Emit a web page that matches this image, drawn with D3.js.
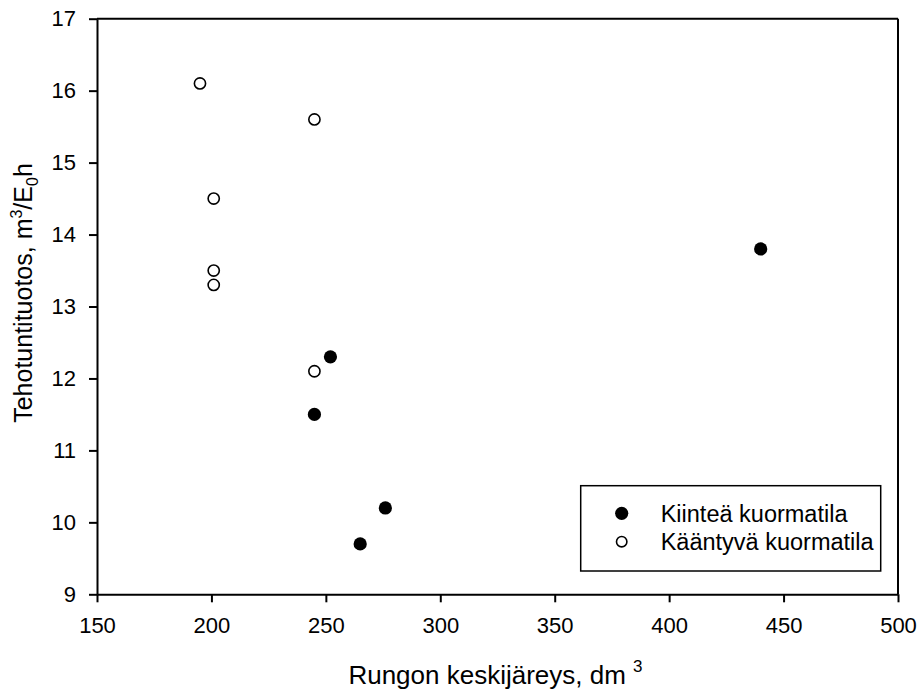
<!DOCTYPE html>
<html>
<head>
<meta charset="utf-8">
<script src="https://cdn.jsdelivr.net/npm/d3@7"></script>
<style>
  body { margin: 0; background: #fff; }
  svg text { font-family: Arial, "Liberation Sans", sans-serif; fill: #000; }
</style>
</head>
<body>
<svg id="chart" width="918" height="693"></svg>
<script>
// fixed cargo space
var fixedX = [440, 252, 245, 276, 265];
var fixedY = [13.8, 12.3, 11.5, 10.2, 9.7];
// rotating cargo space
var rotX = [195, 245, 201, 201, 201, 245];
var rotY = [16.1, 15.6, 14.5, 13.5, 13.3, 12.1];

var xTicks = [150, 200, 250, 300, 350, 400, 450, 500];
var yTicks = [9, 10, 11, 12, 13, 14, 15, 16, 17];
var seriesNames = ["Kiinteä kuormatila", "Kääntyvä kuormatila"];

var margin = { top: 18.7, bottom: 98.7, left: 97, right: 20 };
var svg = d3.select("#chart");
var width = +svg.attr("width");
var height = +svg.attr("height");

var x = d3.scaleLinear()
          .domain([150, 500])
          .range([margin.left, width - margin.right]);
var y = d3.scaleLinear()
          .domain([9, 17])
          .range([height - margin.bottom, margin.top]);

var xAxis = d3.axisBottom(x).tickValues(xTicks).tickSize(8).tickPadding(15).tickSizeOuter(0);
var yAxis = d3.axisLeft(y).tickValues(yTicks).tickSize(8).tickPadding(13).tickSizeOuter(0);

var gx = svg.append("g")
    .attr("transform", `translate(0,${y(9)})`)
    .call(xAxis);
var gy = svg.append("g")
    .attr("transform", `translate(${x(150)},0)`)
    .call(yAxis);

[gx, gy].forEach(g => {
  g.select(".domain").attr("stroke", "#000").attr("stroke-width", 2);
  g.selectAll(".tick line").attr("stroke", "#000").attr("stroke-width", 2);
  g.selectAll(".tick text").style("font-size", "22px").attr("fill", "#000");
});

// top and right frame
svg.append("line")
    .attr("x1", x(150)).attr("x2", x(500))
    .attr("y1", y(17)).attr("y2", y(17))
    .attr("stroke", "#000").attr("stroke-width", 2);
svg.append("line")
    .attr("x1", x(500)).attr("x2", x(500))
    .attr("y1", y(17)).attr("y2", y(9))
    .attr("stroke", "#000").attr("stroke-width", 2);

// axis labels
var xl = svg.append("text")
    .attr("text-anchor", "middle")
    .attr("x", (x(150) + x(500)) / 2 - 2)
    .attr("y", 684)
    .style("font-size", "26px");
xl.append("tspan").text("Rungon keskijäreys, dm ");
xl.append("tspan").attr("dy", -12).style("font-size", "17px").text("3");

var yl = svg.append("text")
    .attr("text-anchor", "middle")
    .attr("transform", `translate(32,293) rotate(-90)`)
    .style("font-size", "25px");
yl.append("tspan").text("Tehotuntituotos, m");
yl.append("tspan").attr("dy", -10).style("font-size", "16px").text("3");
yl.append("tspan").attr("dy", 10).text("/E");
yl.append("tspan").attr("dy", 6).style("font-size", "16px").text("0");
yl.append("tspan").attr("dy", -6).text("h");

// points
var rot = rotX.map((d, i) => ({ x: d, y: rotY[i] }));
var fixed = fixedX.map((d, i) => ({ x: d, y: fixedY[i] }));

svg.append("g")
    .selectAll("circle")
    .data(rot)
    .enter()
    .append("circle")
    .attr("cx", d => x(d.x))
    .attr("cy", d => y(d.y))
    .attr("r", 5.6)
    .attr("fill", "#fff")
    .attr("stroke", "#000")
    .attr("stroke-width", 1.6);

svg.append("g")
    .selectAll("circle")
    .data(fixed)
    .enter()
    .append("circle")
    .attr("cx", d => x(d.x))
    .attr("cy", d => y(d.y))
    .attr("r", 6.6)
    .attr("fill", "#000");

// legend
var lg = svg.append("g");
lg.append("rect")
    .attr("x", 580.7).attr("y", 485.7)
    .attr("width", 300).attr("height", 85.3)
    .attr("fill", "#fff")
    .attr("stroke", "#000")
    .attr("stroke-width", 1.5);

lg.append("circle").attr("cx", 621.7).attr("cy", 513.3).attr("r", 6.6).attr("fill", "#000");
lg.append("circle").attr("cx", 621.7).attr("cy", 541.7).attr("r", 5.2)
    .attr("fill", "#fff").attr("stroke", "#000").attr("stroke-width", 1.6);

lg.selectAll("text.lab")
    .data(seriesNames)
    .enter()
    .append("text")
    .attr("class", "lab")
    .attr("x", 660.7)
    .attr("y", (d, i) => 521.5 + i * 28.4)
    .style("font-size", "23.5px")
    .text(d => d);
</script>
</body>
</html>
